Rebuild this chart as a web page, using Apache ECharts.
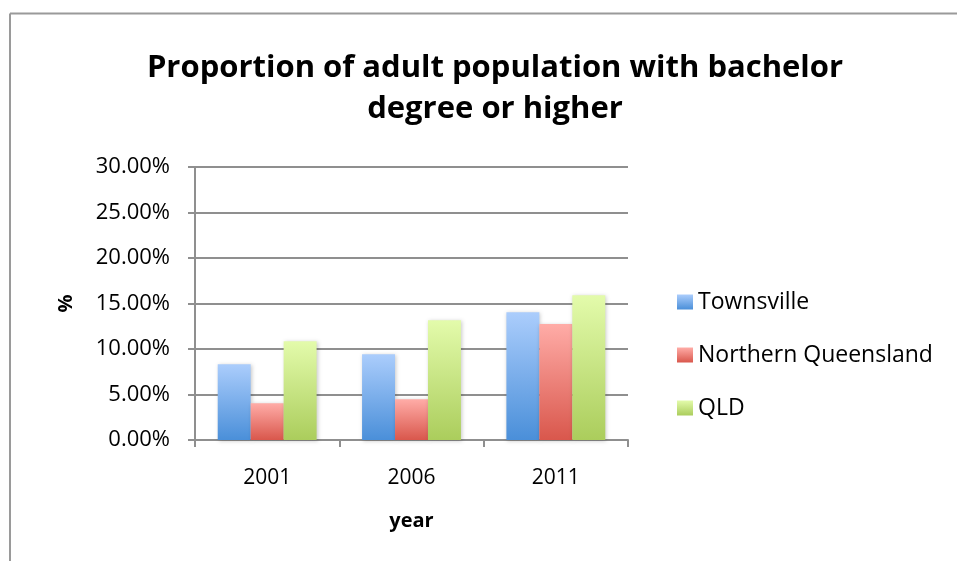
<!DOCTYPE html>
<html>
<head>
<meta charset="utf-8">
<script src="https://cdn.jsdelivr.net/npm/echarts@6/dist/echarts.min.js"></script>
<style>
html,body{margin:0;padding:0;background:#fff;}
#chart{width:957px;height:561px;}
</style>
</head>
<body>
<div id="chart"></div>
<script>
const categories = ['2001', '2006', '2011'];
const townsville = [0.0832, 0.0942, 0.1403];
const northernQueensland = [0.0403, 0.0447, 0.1275];
const qld = [0.1085, 0.1315, 0.1590];
const yTicks = [0, 0.05, 0.10, 0.15, 0.20, 0.25, 0.30];

const FONT = 'Open Sans';

function grad(top, bottom) {
  return new echarts.graphic.LinearGradient(0, 0, 0, 1, [
    { offset: 0, color: top },
    { offset: 1, color: bottom }
  ]);
}

const chart = echarts.init(document.getElementById('chart'), null, { renderer: 'canvas' });

function barSeries(name, data, top, bottom) {
  return {
    name: name,
    type: 'bar',
    data: data,
    barGap: '0%',
    barCategoryGap: '31.5%',
    itemStyle: {
      color: grad(top, bottom),
      shadowColor: 'rgba(0,0,0,0.22)',
      shadowBlur: 4,
      shadowOffsetX: 1,
      shadowOffsetY: 1
    },
    emphasis: { disabled: true }
  };
}

chart.setOption({
  animation: false,
  backgroundColor: '#ffffff',
  textStyle: { fontFamily: FONT },
  title: {
    text: 'Proportion of adult population with bachelor\ndegree or higher',
    left: 490,
    textAlign: 'center',
    top: 43,
    textStyle: {
      fontFamily: FONT,
      fontWeight: 'bold',
      fontSize: 31,
      lineHeight: 41,
      color: '#000'
    }
  },
  grid: {
    left: 195,
    right: 329,
    top: 167,
    bottom: 121,
    containLabel: false
  },
  legend: {
    orient: 'vertical',
    left: 672,
    top: 285,
    itemWidth: 16,
    itemHeight: 15,
    itemGap: 29,
    icon: 'rect',
    textStyle: { fontFamily: FONT, fontSize: 23, lineHeight: 24, color: '#000' },
    data: ['Townsville', 'Northern Queensland', 'QLD']
  },
  xAxis: {
    type: 'category',
    data: categories,
    name: 'year',
    nameLocation: 'middle',
    nameGap: 71,
    nameTextStyle: { fontFamily: FONT, fontWeight: 'bold', fontSize: 20, color: '#000' },
    axisLine: { show: true, lineStyle: { color: '#8f8f8f', width: 2 } },
    axisTick: { show: true, alignWithLabel: false, length: 7, lineStyle: { color: '#8f8f8f', width: 2 } },
    axisLabel: { fontFamily: FONT, fontSize: 21, color: '#000', margin: 28 },
    splitLine: { show: false }
  },
  yAxis: {
    type: 'value',
    min: yTicks[0],
    max: yTicks[yTicks.length - 1],
    interval: 0.05,
    name: '%',
    nameLocation: 'middle',
    nameGap: 119,
    nameRotate: 90,
    nameTextStyle: { fontFamily: FONT, fontWeight: 'bold', fontSize: 20, color: '#000' },
    axisLine: { show: true, lineStyle: { color: '#8f8f8f', width: 2 } },
    axisTick: { show: true, length: 7, lineStyle: { color: '#8f8f8f', width: 2 } },
    axisLabel: {
      fontFamily: FONT, fontSize: 22, color: '#000', margin: 25,
      formatter: function (v) { return (v * 100).toFixed(2) + '%'; }
    },
    splitLine: { show: true, lineStyle: { color: '#8f8f8f', width: 2 } }
  },
  graphic: [
    { type: 'line', shape: { x1: 10, y1: 13.5, x2: 957, y2: 13.5 }, style: { stroke: '#9a9a9a', lineWidth: 2 }, z: 100 },
    { type: 'line', shape: { x1: 10, y1: 13.5, x2: 10, y2: 561 }, style: { stroke: '#9a9a9a', lineWidth: 2 }, z: 100 }
  ],
  series: [
    barSeries('Townsville', townsville, '#abcdfc', '#4a8fd9'),
    barSeries('Northern Queensland', northernQueensland, '#ffaca7', '#d9574c'),
    barSeries('QLD', qld, '#e3fbab', '#abcd5c')
  ]
});
</script>
</body>
</html>
